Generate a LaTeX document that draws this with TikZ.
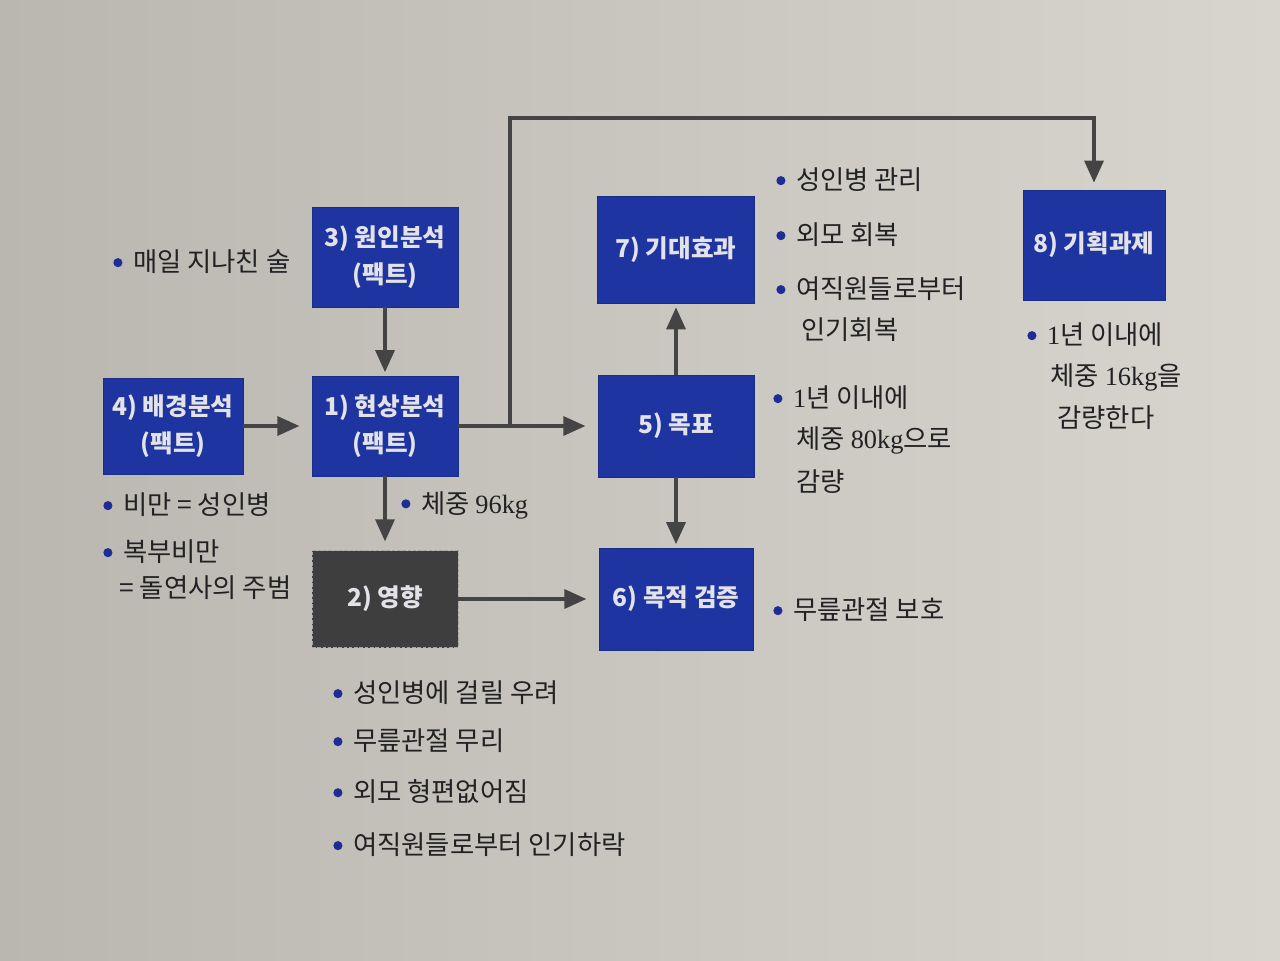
\documentclass[tikz,border=0pt]{standalone}
\usepackage{fontspec}
\setmainfont{Noto Sans CJK KR}
\newfontfamily\numfont{Liberation Serif}
\usetikzlibrary{arrows.meta}
\definecolor{boxblue}{RGB}{30,52,160}
\definecolor{boxtext}{RGB}{226,226,232}
\definecolor{darkbox}{RGB}{62,62,62}
\definecolor{arrowgray}{RGB}{68,68,68}
\definecolor{bodytext}{RGB}{34,34,36}
\definecolor{dotblue}{RGB}{30,45,150}
\definecolor{paper}{RGB}{224,222,214}
\definecolor{paperdark}{RGB}{186,183,176}
\newcommand{\bul}{\tikz[baseline=-0.35em]\fill[dotblue] (0,0) circle (2.6pt);\hspace{6pt}}
\newcommand{\nm}[1]{{\numfont #1}}
\begin{document}
\begin{tikzpicture}[x=0.02cm, y=-0.02cm,
    box/.style = {draw=boxblue!85!black, fill=boxblue, text=boxtext, minimum width=2.92cm, minimum height=2cm,
                  align=center, inner sep=2pt, font=\fontsize{14}{21}\selectfont\bfseries},
    effect/.style = {box, fill=darkbox, draw=gray!70, dashed, dash pattern=on 2pt off 1pt},
    note/.style = {anchor=west, inner sep=0pt, text=bodytext, font=\fontsize{15}{18}\selectfont},
    arr/.style = {draw=arrowgray, line width=1.9pt, shorten >=2pt, -{Triangle[length=0.44cm, width=0.38cm]}},
    harr/.style = {arr, shorten >=7pt}
  ]
  % page
  \useasboundingbox (0,0) rectangle (1280,960);
  \shade[left color=paperdark, middle color=paper, right color=paper!96!black] (0,0) rectangle (1280,960);

  % boxes
  \node[box] (b3) at (385,257) {3) 원인분석\\(팩트)};
  \node[box, minimum width=2.8cm, minimum height=1.92cm] (b4) at (173,426) {4) 배경분석\\(팩트)};
  \node[box] (b1) at (385,426) {1) 현상분석\\(팩트)};
  \node[effect, minimum height=1.94cm] (b2) at (385,599) {2) 영향};
  \node[box, minimum width=3.14cm, minimum height=2.14cm] (b7) at (676,250) {7) 기대효과};
  \node[box, minimum width=3.12cm, minimum height=2.04cm] (b5) at (676,426) {5) 목표};
  \node[box, minimum width=3.08cm, minimum height=2.04cm] (b6) at (676,599) {6) 목적 검증};
  \node[box, minimum width=2.84cm, minimum height=2.2cm] (b8) at (1094,245) {8) 기획과제};

  % connectors
  \coordinate (split) at (510,426);
  \coordinate (top) at (510,118);
  \draw[arr] (b3) -- (b1);
  \draw[harr] (b4) -- (b1);
  \draw[harr] (b1) -- (b5);
  \draw[arr, shorten >=5pt] (b1) -- (b2);
  \draw[arr] (b5) -- (b7);
  \draw[arr] (b5) -- (b6);
  \draw[harr] (b2) -- (b6);
  \draw[arr, shorten >=4pt] (split) -- (top) -| (b8.north);

  % notes
  \node[note] (n31) at (113,262) {\bul 매일 지나친 술};
  \node[note] (n41) at (103,505) {\bul 비만 = 성인병};
  \node[note] (n42) at (103,552) {\bul 복부비만};
  \node[note] (n43) at (119,588) {= 돌연사의 주범};
  \node[note] (n11) at (401,505) {\bul 체중 \nm{96kg}};
  \node[note] (n21) at (333,693) {\bul 성인병에 걸릴 우려};
  \node[note] (n22) at (333,741) {\bul 무릎관절 무리};
  \node[note] (n23) at (333,792) {\bul 외모 형편없어짐};
  \node[note] (n24) at (333,845) {\bul 여직원들로부터 인기하락};
  \node[note] (n71) at (776,180) {\bul 성인병 관리};
  \node[note] (n72) at (776,235) {\bul 외모 회복};
  \node[note] (n73) at (776,289) {\bul 여직원들로부터};
  \node[note] (n74) at (801,330) {인기회복};
  \node[note] (n51) at (773,398) {\bul \nm{1}년 이내에};
  \node[note] (n52) at (796,440) {체중 \nm{80kg}으로};
  \node[note] (n53) at (796,482) {감량};
  \node[note] (n61) at (773,610) {\bul 무릎관절 보호};
  \node[note] (n81) at (1027,335) {\bul \nm{1}년 이내에};
  \node[note] (n82) at (1050,377) {체중 \nm{16kg}을};
  \node[note] (n83) at (1057,418) {감량한다};
\end{tikzpicture}
\end{document}
